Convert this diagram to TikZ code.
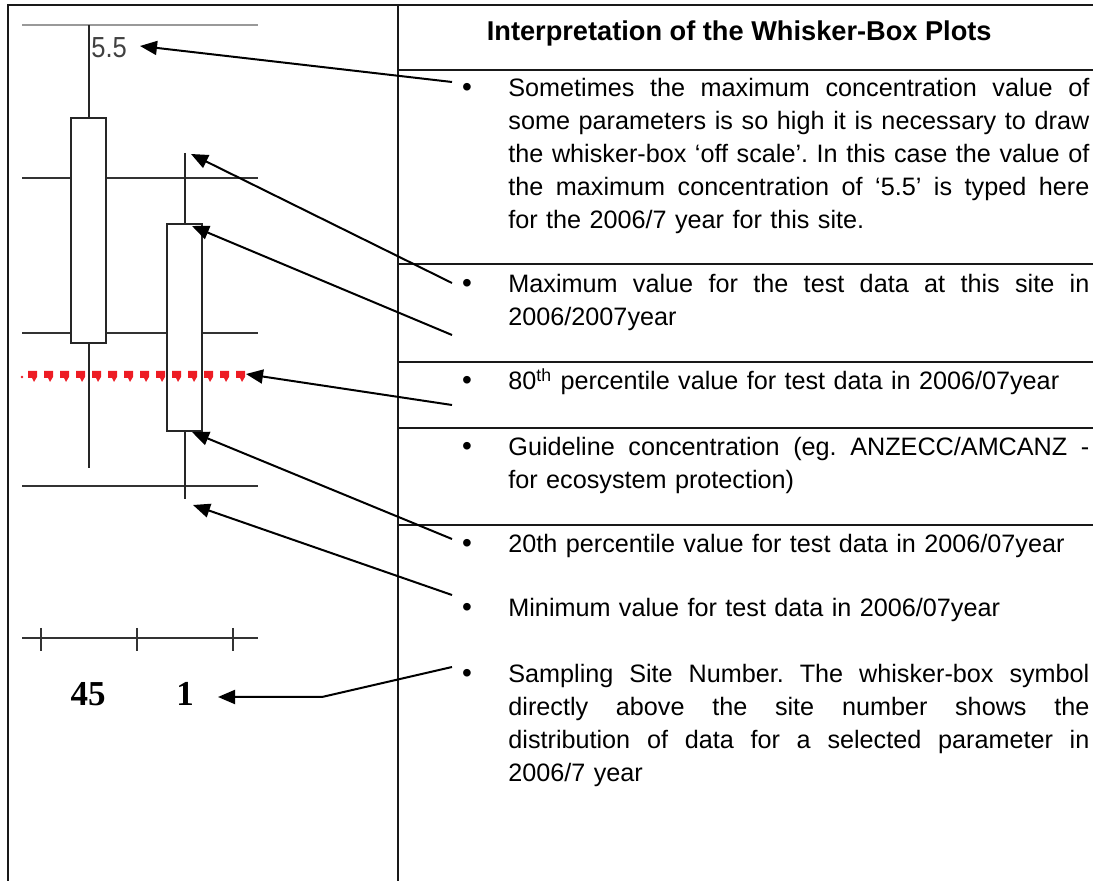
\documentclass[tikz,border=0pt]{standalone}
\usepackage{fontspec}
\setmainfont{Liberation Sans}
\newfontfamily\valfont{Liberation Sans}[FakeStretch=0.88]
\newfontfamily\sitefont{Liberation Serif}
\usetikzlibrary{arrows.meta,calc}

\definecolor{guidered}{RGB}{237,28,36}
\newcommand{\bodytext}{\fontsize{12.6}{16.5}\selectfont\frenchspacing}
\newcommand{\jline}[1]{\makebox[290.5pt][s]{\spaceskip=\fontdimen2\font plus 1fil\relax #1}}

\begin{document}
\begin{tikzpicture}[
  x=0.5pt,y=-0.5pt,
  >={Triangle[length=8.5pt,width=7pt]},
  frame/.style={draw=black!90, line width=1pt},
  gridline/.style={draw=black!80, line width=0.6pt},
  whisker/.style={draw=black!85, line width=0.6pt},
  wbox/.style={whisker, fill=white},
  callout/.style={->, draw=black, line width=1pt},
  entry/.style={anchor=base west, inner sep=0pt, text width=290.5pt, font=\bodytext},
  bul/.style={anchor=base, inner sep=0pt, font=\fontsize{14}{16}\selectfont}
]
\path[use as bounding box] (0,0) rectangle (1093,881);

% Table frame
\draw[frame] (1093,5) -- (8,5) -- (8,881);
\draw[frame] (398,5) -- (398,881);
\foreach \ry in {70,264,362,428,525}
  \draw[frame] (398,\ry) -- (1093,\ry);

% Plot: scale lines
\draw[draw=black!40, line width=0.7pt] (22,25) -- (258,25);
\foreach \gy in {178,333,486}
  \draw[gridline] (22,\gy) -- (258,\gy);

% Site 45 (off scale)
\draw[whisker] (89,25) -- (89,118);
\draw[whisker] (89,343) -- (89,468);
\draw[wbox] (71,118) rectangle (106,343);
\node[anchor=base west, inner sep=0pt, text=black!75, font=\valfont\fontsize{14.5}{16}\selectfont]
  (offval) at (91,58) {5.5};

% Site 1
\draw[whisker] (185,153) -- (185,224);
\draw[whisker] (185,431) -- (185,499);
\draw[wbox] (167,224) rectangle (202,431);

% Guideline
\fill[guidered] (22,377) circle[radius=1.3];
\foreach \mx in {33,49,...,241}
  \fill[guidered] (\mx-5,371) -- (\mx+4,371) -- (\mx+4,377) -- (\mx+1,382)
    -- (\mx-1,378) -- (\mx-5,378) -- cycle;

% Site axis
\draw[gridline] (22,638) -- (258,638);
\foreach \tx in {41,137,233}
  \draw[gridline] (\tx,628) -- (\tx,651);
\node[anchor=base, inner sep=0pt, font=\sitefont\bfseries\fontsize{17.5}{20}\selectfont]
  (site45) at (88,706) {45};
\node[anchor=base, inner sep=0pt, font=\sitefont\bfseries\fontsize{17.5}{20}\selectfont]
  (site1) at (185,706) {1};

% Heading
\node[anchor=base east, inner sep=0pt, font=\bfseries\fontsize{13.6}{16}\selectfont]
  (hdr) at (992,41) {Interpretation of the Whisker-Box Plots};

% Entries
\node[bul] (bOff) at (467,97) {\textbullet};
\node[entry] (eOff) at (508,97)
  {\jline{Sometimes the maximum concentration value of}\\
   \jline{some parameters is so high it is necessary to draw}\\
   \jline{the whisker-box ‘off scale’. In this case the value of}\\
   \jline{the maximum concentration of ‘5.5’ is typed here}\\
   for the 2006/7 year for this site.};

\node[bul] (bMax) at (467,293) {\textbullet};
\node[entry] (eMax) at (508,293)
  {\jline{Maximum value for the test data at this site in}\\
   2006/2007year};

\node[bul] (bUpper) at (467,390) {\textbullet};
\node[entry] (eUpper) at (508,390)
  {80\textsuperscript{th} percentile value for test data in 2006/07year};

\node[bul] (bGuide) at (467,456) {\textbullet};
\node[entry] (eGuide) at (508,456)
  {\jline{Guideline concentration (eg. ANZECC/AMCANZ -}\\
   for ecosystem protection)};

\node[bul] (bLower) at (467,553) {\textbullet};
\node[entry] (eLower) at (508,553)
  {20th percentile value for test data in 2006/07year};

\node[bul] (bMin) at (467,617) {\textbullet};
\node[entry] (eMin) at (508,617)
  {Minimum value for test data in 2006/07year};

\node[bul] (bSite) at (467,683) {\textbullet};
\node[entry] (eSite) at (508,683)
  {\jline{Sampling Site Number. The whisker-box symbol}\\
   \jline{directly above the site number shows the}\\
   \jline{distribution of data for a selected parameter in}\\
   2006/7 year};

% Call-out ends
\coordinate (tOff) at (452,82);   \coordinate (hOff) at (140,46);
\coordinate (tMax) at (452,283);  \coordinate (hMax) at (191,154);
\coordinate (tUpper) at (452,335); \coordinate (hUpper) at (192,226);
\coordinate (tGuide) at (452,405); \coordinate (hGuide) at (246,374);
\coordinate (tLower) at (452,539); \coordinate (hLower) at (192,432);
\coordinate (tMin) at (452,595);  \coordinate (hMin) at (193,505);
\coordinate (tSite) at (452,667); \coordinate (kSite) at (322,697);
\coordinate (hSite) at (218,697);

% Call-outs
\draw[callout] (tOff) -- (hOff);
\draw[callout] (tMax) -- (hMax);
\draw[callout] (tUpper) -- (hUpper);
\draw[callout] (tGuide) -- (hGuide);
\draw[callout] (tLower) -- (hLower);
\draw[callout] (tMin) -- (hMin);
\draw[callout] (tSite) -- (kSite) -- (hSite);

\end{tikzpicture}
\end{document}
